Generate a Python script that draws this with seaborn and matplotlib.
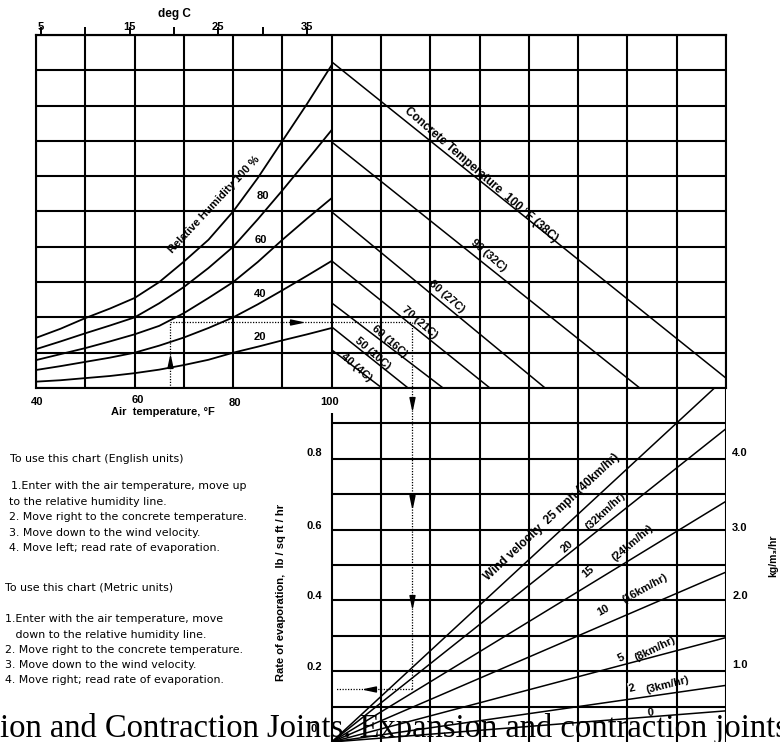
import numpy as np
import pandas as pd
import matplotlib
matplotlib.use("Agg")
import matplotlib.pyplot as plt
from matplotlib.path import Path
import seaborn as sns

sns.set_theme(style="white")
plt.rcParams["font.family"] = ["Liberation Sans", "DejaVu Sans"]

air_temp_f = [40, 45, 50, 55, 60, 65, 70, 75, 80, 85, 90, 95, 100]
rh_levels = [100, 80, 60, 40, 20]
rh_100 = [1.42, 1.68, 1.98, 2.25, 2.55, 3.00, 3.58, 4.20, 5.00, 5.95, 7.00, 8.05, 9.15]
rh_80 = [1.10, 1.32, 1.55, 1.77, 2.00, 2.40, 2.86, 3.40, 4.00, 4.78, 5.60, 6.45, 7.31]
rh_60 = [0.79, 0.96, 1.13, 1.32, 1.52, 1.76, 2.12, 2.55, 3.00, 3.57, 4.20, 4.80, 5.38]
rh_40 = [0.51, 0.62, 0.74, 0.86, 1.00, 1.20, 1.43, 1.70, 2.00, 2.37, 2.77, 3.18, 3.60]
rh_20 = [0.18, 0.22, 0.28, 0.34, 0.42, 0.52, 0.65, 0.80, 1.00, 1.17, 1.35, 1.52, 1.70]

conc_temp_f = [100, 90, 80, 70, 60, 50, 40]
conc_temp_c = ["38C", "32C", "27C", "21C", "16C", "10C", "4C"]
conc_start_y = [9.24, 6.97, 4.99, 3.60, 2.41, 1.73, 1.08]
conc_end_x = [180.0, 162.5, 143.3, 132.1, 122.6, 115.5, 110.2]
conc_end_y = [0.28, 0.0, 0.0, 0.0, 0.0, 0.0, 0.0]

wind_mph = [25, 20, 15, 10, 5, 2, 0]
wind_kmh = ["40km/hr", "32km/hr", "24km/hr", "16km/hr", "8km/hr", "3km/hr", ""]
wind_rate_end = [1.03, 0.885, 0.68, 0.48, 0.295, 0.16, 0.088]

air_ticks = ["40", "60", "80", "100"]
degc_ticks = [5, 10, 15, 20, 25, 30, 35]
degc_labels = ["5", "", "15", "", "25", "", "35"]
rate_labels = ["0.8", "0.6", "0.4", "0.2", "0"]
metric_labels = ["4.0", "3.0", "2.0", "1.0"]

example_air_f = 67.1
example_vp = 1.88
example_conc_x = 116.3
example_rate = 0.15

english_lines = [
    "To use this chart (English units)",
    "1.Enter with the air temperature, move up",
    "to the relative humidity line.",
    "2. Move right to the concrete temperature.",
    "3. Move down to the wind velocity.",
    "4. Move left; read rate of evaporation.",
]
metric_lines = [
    "To use this chart (Metric units)",
    "1.Enter with the air temperature, move",
    "   down to the relative humidity line.",
    "2. Move right to the concrete temperature.",
    "3. Move down to the wind velocity.",
    "4. Move right; read rate of evaporation.",
]

# ---------------- figure ----------------
W, H = 780, 742
fig = plt.figure(figsize=(W / 100, H / 100), dpi=100)
fig.patch.set_facecolor("white")


def fx(px):
    return px / W


def fy(py):
    return 1 - py / H


def T(xp, yp, s, **kw):
    kw.setdefault("ha", "center")
    kw.setdefault("va", "center")
    kw.setdefault("color", "black")
    if "rotation" in kw:
        kw.setdefault("rotation_mode", "anchor")
    return fig.text(fx(xp), fy(yp), s, **kw)


GRID_LW = 1.5

# top panel
ax = fig.add_axes([fx(36), fy(388), (726 - 36) / W, (388 - 35) / H])
ax.set_xlim(40, 180)
ax.set_ylim(0, 10)
ax.set_xticks(range(40, 181, 10))
ax.set_yticks(range(0, 11))
ax.tick_params(length=0, labelbottom=False, labelleft=False)
ax.grid(True, color="black", lw=GRID_LW)
ax.set_axisbelow(True)
for sp in ax.spines.values():
    sp.set_color("black")
    sp.set_linewidth(GRID_LW)

hum_df = pd.DataFrame({
    "temp": air_temp_f * 5,
    "vp": rh_100 + rh_80 + rh_60 + rh_40 + rh_20,
    "rh": np.repeat(rh_levels, len(air_temp_f)),
})
sns.lineplot(data=hum_df, x="temp", y="vp", units="rh", estimator=None,
             color="black", lw=1.3, sort=False, ax=ax, legend=False)

conc_df = pd.DataFrame({
    "x": [v for pair in zip([100] * 7, conc_end_x) for v in pair],
    "y": [v for pair in zip(conc_start_y, conc_end_y) for v in pair],
    "c": np.repeat(conc_temp_f, 2),
})
sns.lineplot(data=conc_df, x="x", y="y", units="c", estimator=None,
             color="black", lw=1.1, sort=False, ax=ax, legend=False)
ax.set_xlabel("")
ax.set_ylabel("")

# deg C scale on top
sec = ax.secondary_xaxis("top", functions=(lambda f: (f - 32) * 5 / 9,
                                           lambda c: c * 9 / 5 + 32))
sec.set_xticks(degc_ticks)
sec.set_xticklabels(degc_labels, fontweight="bold", fontsize=8)
sec.tick_params(direction="out", length=5.5, width=1.4, pad=-3.5, colors="black")
sec.spines["top"].set_linewidth(GRID_LW)

# bottom panel
axb = fig.add_axes([fx(36), 0, (726 - 36) / W, (742 - 388) / H])
axb.set_xlim(40, 180)
axb.set_ylim(0, 1.0)
axb.axis("off")
axb.vlines(range(110, 181, 10), 0, 1.0, color="black", lw=GRID_LW)
axb.vlines(100, 0, 0.93, color="black", lw=GRID_LW)
axb.hlines(np.arange(1, 10) / 10, 100, 180, color="black", lw=GRID_LW)

wind_df = pd.DataFrame({
    "x": [100, 180] * len(wind_mph),
    "rate": [v for r in wind_rate_end for v in (0.0, r)],
    "w": np.repeat(wind_mph, 2),
})
sns.lineplot(data=wind_df, x="x", y="rate", units="w", estimator=None,
             color="black", lw=1.1, sort=False, ax=axb, legend=False)

# example path (dotted) with arrowheads
dot = dict(color="black", lw=0.9, ls=(0, (1, 1.2)))
ax.plot([example_air_f, example_air_f], [0, example_vp], **dot)
ax.plot([example_air_f, example_conc_x], [example_vp, example_vp], **dot)
ax.plot([example_conc_x, example_conc_x], [example_vp, 0], **dot)
axb.plot([example_conc_x, example_conc_x], [1.0, example_rate], **dot)
axb.plot([example_conc_x, 100.7], [example_rate, example_rate], **dot)

C = [Path.MOVETO, Path.LINETO, Path.LINETO, Path.CLOSEPOLY]
up = Path([(-0.42, -1), (0.42, -1), (0, 1), (-0.42, -1)], C)
down = Path([(-0.42, 1), (0.42, 1), (0, -1), (-0.42, 1)], C)
right = Path([(-1, -0.42), (-1, 0.42), (1, 0), (-1, -0.42)], C)
left = Path([(1, -0.42), (1, 0.42), (-1, 0), (1, -0.42)], C)
mk = dict(color="black", ms=8.5, ls="none", clip_on=False)
ax.plot([example_air_f], [0.74], marker=up, **mk)
ax.plot([92.7], [example_vp], marker=right, **mk)
axb.plot([example_conc_x] * 3, [0.958, 0.681, 0.398], marker=down, **mk)
axb.plot([107.8], [example_rate], marker=left, **mk)

# ---------------- texts ----------------
B = dict(fontweight="bold", fontsize=8)
T(174, 14, "deg C", fontweight="bold", fontsize=8.5)

for lab, (xp, yp) in zip(air_ticks, [(37, 402), (138, 400), (235, 403), (330, 402)]):
    T(xp, yp, lab, **B)
T(163, 412, "Air  temperature, \u00b0F", **B)

T(214, 205, "Relative Humidity 100 %", rotation=47, **B)
for lab, (xp, yp) in zip(["80", "60", "40", "20"],
                         [(263, 196), (261, 240), (260, 294), (260, 337)]):
    T(xp, yp, lab, **B)

conc_pos = [(481, 175), (489, 255), (447, 296), (420, 322), (390, 341), (373, 353), (356, 367)]
for i, (t, c) in enumerate(zip(conc_temp_f, conc_temp_c)):
    s = f"Concrete Temperature  {t} \u00b0F ({c})" if i == 0 else f"{t} ({c})"
    T(conc_pos[i][0], conc_pos[i][1], s, rotation=-41, fontweight="bold",
      fontsize=8.5 if i == 0 else 8)

T(552, 517, f"Wind velocity  {wind_mph[0]} mph ({wind_kmh[0]})", rotation=43,
  fontweight="bold", fontsize=8.5)
num_pos = [None, (567, 547), (588, 572), (603, 610), (621, 658), (632, 688), (650, 713)]
km_pos = [None, (605, 511), (633, 543), (645, 588), (655, 649), (668, 685), None]
rots = [43, 43, 40, 29, 26, 14, 5]
for i in range(1, len(wind_mph)):
    kw = dict(B)
    if wind_mph[i] == 2:
        kw["bbox"] = dict(facecolor="white", edgecolor="none", pad=0.5)
    T(num_pos[i][0], num_pos[i][1], str(wind_mph[i]), rotation=rots[i], **kw)
    if km_pos[i] is not None:
        T(km_pos[i][0], km_pos[i][1], f"({wind_kmh[i]})", rotation=rots[i], **B)

for lab, yp in zip(rate_labels, [453, 526, 596, 667, 729]):
    T(314, yp, lab, **B)
for lab, yp in zip(metric_labels, [453, 528, 596, 665]):
    T(740, yp, lab, **B)
T(773, 556, "kg/m\u2083/hr", rotation=90, fontsize=7.5, fontweight="bold",
  family=["Liberation Sans", "DejaVu Sans"])
T(281, 592, "Rate of evaporation,  lb / sq ft / hr", rotation=90, fontweight="bold",
  fontsize=8, family=["Liberation Sans Narrow", "Liberation Sans", "DejaVu Sans"])

inst = dict(ha="left", fontsize=7.9, family=["DejaVu Sans"])
for s, (xp, yp) in zip(english_lines, [(10, 459), (11, 486), (9, 502), (9, 517), (9, 533), (9, 548)]):
    T(xp, yp, s, **inst)
for s, (xp, yp) in zip(metric_lines, [(5, 588), (5, 619), (5, 635), (5, 650), (5, 665), (5, 680)]):
    T(xp, yp, s, **inst)

T(0, 737, "ion and Contraction Joints. Expansion and contraction joints", ha="left",
  va="baseline", fontsize=23.5, family=["Liberation Serif", "DejaVu Serif"])

fig.savefig("out.png", dpi=100, facecolor="white")
